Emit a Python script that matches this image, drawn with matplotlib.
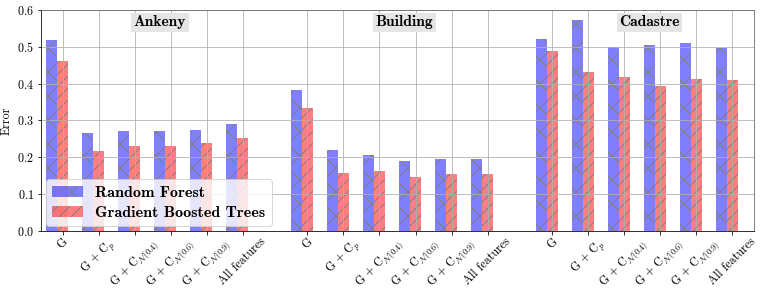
import numpy as np
import matplotlib.pyplot as plt

plt.rcParams['font.family'] = 'cmr10'
plt.rcParams['mathtext.fontset'] = 'cm'
plt.rcParams['axes.formatter.use_mathtext'] = True
plt.rcParams['hatch.linewidth'] = 1.0

# --- dati ---
datasets = ['Ankeny', 'Building', 'Cadastre']
features = ['G', 'G + C$_p$', 'G + C$_{\\mathcal{N}(0.4)}$', 'G + C$_{\\mathcal{N}(0.6)}$',
            'G + C$_{\\mathcal{N}(0.9)}$', 'All features']

rf_ankeny = [0.518, 0.265, 0.272, 0.272, 0.275, 0.291]
gbt_ankeny = [0.461, 0.216, 0.231, 0.231, 0.240, 0.252]
rf_building = [0.383, 0.221, 0.207, 0.190, 0.195, 0.195]
gbt_building = [0.333, 0.158, 0.162, 0.147, 0.155, 0.154]
rf_cadastre = [0.522, 0.573, 0.500, 0.504, 0.510, 0.497]
gbt_cadastre = [0.490, 0.431, 0.417, 0.393, 0.414, 0.410]

rf = [rf_ankeny, rf_building, rf_cadastre]
gbt = [gbt_ankeny, gbt_building, gbt_cadastre]

# --- grafico ---
fig = plt.figure(figsize=(764 / 72, 291 / 72), dpi=72)
ax = fig.add_axes([41 / 764, 1 - 231 / 291, 713 / 764, 221 / 291])

group_step = 6.8
width = 0.3
ticks, labels = [], []
for g, name in enumerate(datasets):
    x = np.arange(len(features)) + g * group_step
    ax.bar(x - width, rf[g], width, facecolor=(0, 0, 1, 0.5), edgecolor='gray',
           linewidth=0, hatch='x', label='Random Forest' if g == 0 else None)
    ax.bar(x, gbt[g], width, facecolor=(1, 0, 0, 0.5), edgecolor='gray',
           linewidth=0, hatch='//', label='Gradient Boosted Trees' if g == 0 else None)
    ticks += list(x)
    labels += features
    ax.text(g * group_step + 2.7, 0.567, name, family='cmb10', fontsize=15.5,
            ha='center', va='center',
            bbox=dict(facecolor='#e5e5e5', edgecolor='none', pad=2.5))

ax.set_xticks(ticks)
ax.set_xticklabels(labels, rotation=45, fontsize=12)
ax.tick_params(axis='x', pad=1.5)
ax.set_xlim(-0.6, 19.2)
ax.set_ylim(0, 0.6)
ax.set_yticks(np.arange(0, 0.61, 0.1))
ax.tick_params(axis='y', labelsize=12)
ax.set_ylabel('Error', fontsize=12)
ax.grid(True, color='#b0b0b0', linewidth=0.8)
for s in ['top', 'right']:
    ax.spines[s].set_color('#666666')

ax.legend(loc='lower left', prop={'family': 'cmb10', 'size': 16}, borderaxespad=0.3,
          handleheight=0.7, handlelength=1.9, labelspacing=0.35, borderpad=0.4)

plt.savefig('out.png', dpi=72)
